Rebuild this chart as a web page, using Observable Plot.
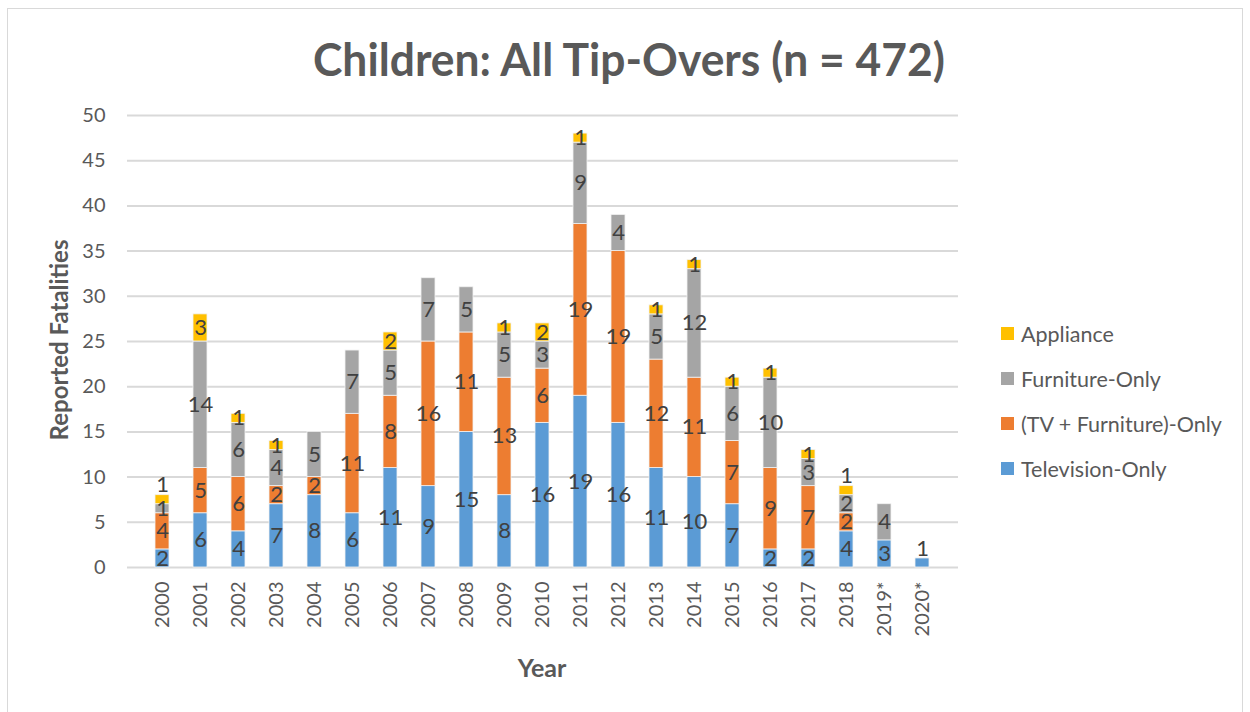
<!DOCTYPE html>
<html><head><meta charset="utf-8">
<script src="https://cdn.jsdelivr.net/npm/d3@7"></script>
<script src="https://cdn.jsdelivr.net/npm/@observablehq/plot@0.6"></script>
<style>
body{margin:0;background:#fff;}
#wrap{position:relative;width:1250px;height:712px;overflow:hidden;font-family:Lato,"Open Sans",sans-serif;}
#frame{position:absolute;left:7px;top:8px;width:1236px;height:760px;border:1.5px solid #d9d9d9;box-sizing:border-box;}
#title{position:absolute;left:0;top:0;}
#chart{position:absolute;left:0;top:95px;}
#ylabel{position:absolute;left:58px;top:340px;transform:translate(-50%,-50%) rotate(-90deg);white-space:nowrap;font-weight:bold;font-size:24px;color:#595959;}
#xlabel{position:absolute;left:542px;top:667px;transform:translate(-50%,-50%);font-weight:bold;font-size:25px;color:#595959;}
#legend{position:absolute;left:1001px;top:311px;}
.item{height:45px;display:flex;align-items:center;font-size:21.5px;color:#595959;white-space:nowrap;}
.sw{width:13px;height:13px;margin-right:7px;flex:none;}
</style>
</head><body>
<div id="wrap">
  <div id="frame"></div>
  <svg id="title" width="1250" height="95"><text x="629" y="76" text-anchor="middle" font-family="Lato, sans-serif" font-weight="bold" font-size="46" fill="#595959" textLength="632" lengthAdjust="spacingAndGlyphs">Children: All Tip-Overs (n = 472)</text></svg>
  <div id="chart"></div>
  <div id="ylabel">Reported Fatalities</div>
  <div id="xlabel">Year</div>
  <div id="legend"></div>
</div>
<script>
const years = ["2000","2001","2002","2003","2004","2005","2006","2007","2008","2009","2010","2011","2012","2013","2014","2015","2016","2017","2018","2019*","2020*"];
const television  = [2,6,4,7,8,6,11,9,15,8,16,19,16,11,10,7,2,2,4,3,1];
const tvFurniture = [4,5,6,2,2,11,8,16,11,13,6,19,19,12,11,7,9,7,2,0,0];
const furniture   = [1,14,6,4,5,7,5,7,5,5,3,9,4,5,12,6,10,3,2,4,0];
const appliance   = [1,3,1,1,0,0,2,0,0,1,2,1,0,1,1,1,1,1,1,0,0];
const seriesNames = ["Television-Only","(TV + Furniture)-Only","Furniture-Only","Appliance"];
const seriesColors = ["#5B9BD5","#ED7D31","#A5A5A5","#FFC000"];
const yTicks = [0,5,10,15,20,25,30,35,40,45,50];

const seriesValues = [television, tvFurniture, furniture, appliance];
const rows = [];
years.forEach((yr, i) => {
  const segs = [];
  seriesValues.forEach((vals, s) => {
    if (vals[i] > 0) segs.push({year: yr, series: seriesNames[s], value: vals[i]});
  });
  // a tiny top segment sitting on another tiny one (or alone) gets its label above the bar
  segs.forEach((d, k) => {
    const isTop = k === segs.length - 1;
    const below = k > 0 ? segs[k - 1].value : 0;
    d.above = isTop && d.value <= 1 && below <= 2;
    rows.push(d);
  });
});

const chart = Plot.plot({
  width: 1250, height: 600,
  marginLeft: 127, marginRight: 292, marginTop: 20, marginBottom: 128,
  style: {fontFamily: "Lato, sans-serif", fontSize: "20px", color: "#595959", background: "transparent", overflow: "visible"},
  x: {domain: years, padding: 0.62, label: null, tickRotate: -90, tickSize: 0, tickPadding: 14},
  y: {domain: [0, 50], ticks: yTicks, tickSize: 0, tickPadding: 22, label: null},
  color: {domain: seriesNames, range: seriesColors},
  marks: [
    Plot.ruleY(yTicks, {stroke: "#d9d9d9", strokeWidth: 2}),
    Plot.barY(rows, {x: "year", y: "value", z: "series", fill: "series", stroke: "#f2f2f2", strokeWidth: 0.8}),
    Plot.text(rows, Plot.stackY({x: "year", y: "value", z: "series", text: d => d.above ? null : d.value, fill: "#404040", fontSize: 22})),
    Plot.text(rows, Plot.stackY2({x: "year", y: "value", z: "series", text: d => d.above ? d.value : null, fill: "#404040", fontSize: 22, dy: -10}))
  ]
});
document.getElementById("chart").appendChild(chart);

const legend = document.getElementById("legend");
[3,2,1,0].forEach(s => {
  const it = document.createElement("div");
  it.className = "item";
  it.innerHTML = `<span class="sw" style="background:${seriesColors[s]}"></span><span>${seriesNames[s]}</span>`;
  legend.appendChild(it);
});
</script>
</body></html>
